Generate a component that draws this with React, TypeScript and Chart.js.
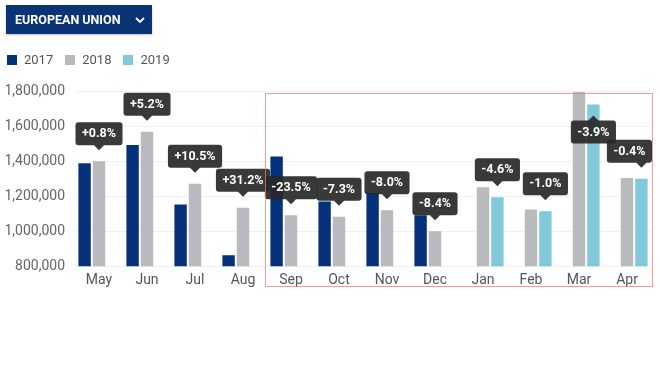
import React, { useEffect, useRef } from "react";
import { Chart, registerables } from "chart.js";

Chart.register(...registerables);

const months = ["May", "Jun", "Jul", "Aug", "Sep", "Oct", "Nov", "Dec", "Jan", "Feb", "Mar", "Apr"];
const v2017 = [1388000, 1492000, 1152000, 863000, 1426000, 1169000, 1218000, 1091000, null, null, null, null];
const v2018 = [1399000, 1568000, 1271000, 1134000, 1091000, 1082000, 1119000, 999000, 1250000, 1124000, 1795000, 1304000];
const v2019 = [null, null, null, null, null, null, null, null, 1194000, 1113000, 1723000, 1299000];
const changes = ["+0.8%", "+5.2%", "+10.5%", "+31.2%", "-23.5%", "-7.3%", "-8.0%", "-8.4%", "-4.6%", "-1.0%", "-3.9%", "-0.4%"];
const seriesNames = ["2017", "2018", "2019"];
const seriesColors = ["#03317a", "#b9babd", "#80c8da"];
const yTicks = { min: 800000, max: 1800000, step: 200000 };
const highlightStart = 4; // Sep

const FONT = "Roboto, 'Noto Sans', sans-serif";

const labelPlugin = {
  id: "changeLabels",
  afterDatasetsDraw(chart: any) {
    const ctx = chart.ctx;
    const area = chart.chartArea;
    const m1 = chart.getDatasetMeta(1);
    const m2 = chart.getDatasetMeta(2);
    ctx.save();
    ctx.font = "bold 12.5px " + FONT;
    ctx.textAlign = "center";
    ctx.textBaseline = "middle";
    changes.forEach((txt, i) => {
      const useMeta = v2019[i] != null ? m2 : m1;
      const el = useMeta.data[i];
      if (!el) return;
      const px = el.x;
      const py = el.y;
      const gap = 11;
      const caret = 5;
      const h = 23;
      const w = ctx.measureText(txt).width + 13;
      let above = true;
      let tipY = py - gap;
      let boxTop = tipY - caret - h;
      if (boxTop < area.top) {
        above = false;
        tipY = py + gap;
        boxTop = tipY + caret;
      }
      let boxLeft = px - w / 2;
      const maxRight = area.right + 1;
      if (boxLeft + w > maxRight) boxLeft = maxRight - w;
      const r = 3;
      ctx.fillStyle = "rgba(40,40,40,0.92)";
      ctx.beginPath();
      ctx.moveTo(boxLeft + r, boxTop);
      if (!above) {
        ctx.lineTo(px - caret, boxTop);
        ctx.lineTo(px, tipY);
        ctx.lineTo(px + caret, boxTop);
      }
      ctx.lineTo(boxLeft + w - r, boxTop);
      ctx.quadraticCurveTo(boxLeft + w, boxTop, boxLeft + w, boxTop + r);
      ctx.lineTo(boxLeft + w, boxTop + h - r);
      ctx.quadraticCurveTo(boxLeft + w, boxTop + h, boxLeft + w - r, boxTop + h);
      if (above) {
        ctx.lineTo(px + caret, boxTop + h);
        ctx.lineTo(px, tipY);
        ctx.lineTo(px - caret, boxTop + h);
      }
      ctx.lineTo(boxLeft + r, boxTop + h);
      ctx.quadraticCurveTo(boxLeft, boxTop + h, boxLeft, boxTop + h - r);
      ctx.lineTo(boxLeft, boxTop + r);
      ctx.quadraticCurveTo(boxLeft, boxTop, boxLeft + r, boxTop);
      ctx.closePath();
      ctx.fill();
      ctx.fillStyle = "#ffffff";
      ctx.fillText(txt, boxLeft + w / 2, boxTop + h / 2 + 0.5);
    });

    // highlight rectangle
    const xs = chart.scales.x;
    const cat = (xs.right - xs.left) / months.length;
    const left = xs.getPixelForValue(highlightStart) - cat / 2 - 2;
    ctx.strokeStyle = "rgba(245,120,120,0.75)";
    ctx.lineWidth = 1;
    ctx.strokeRect(Math.round(left) + 0.5, Math.round(area.top + 2) + 0.5, Math.round(area.right + 1 - left), Math.round(area.bottom + 20 - area.top - 2));
    ctx.restore();
  },
};

export default function App() {
  const ref = useRef<HTMLCanvasElement>(null);
  useEffect(() => {
    document.body.style.margin = "0";
    const chart = new Chart(ref.current as HTMLCanvasElement, {
      type: "bar",
      data: {
        labels: months,
        datasets: [v2017, v2018, v2019].map((d, i) => ({
          label: seriesNames[i],
          data: d as any,
          backgroundColor: seriesColors[i],
          categoryPercentage: 0.9,
          barPercentage: 0.86,
        })),
      },
      options: {
        responsive: false,
        animation: false,
        layout: { padding: { top: 91, left: 6, right: 9, bottom: 74 } },
        plugins: {
          legend: { display: false },
          tooltip: { enabled: false },
        },
        scales: {
          x: {
            grid: { display: false, drawTicks: false },
            border: { display: false },
            ticks: { color: "#555", font: { family: FONT, size: 14 }, padding: 6 },
          },
          y: {
            min: yTicks.min,
            max: yTicks.max,
            grid: { color: "#f0f0f0", drawTicks: false },
            border: { display: false },
            afterFit: (scale: any) => {
              scale.width = 69;
            },
            ticks: {
              stepSize: yTicks.step,
              color: "#666",
              padding: 10,
              font: { family: FONT, size: 14 },
              callback: (v: any) => Number(v).toLocaleString("en-US"),
            },
          },
        },
      },
      plugins: [labelPlugin],
    });
    return () => chart.destroy();
  }, []);

  return (
    <div style={{ position: "relative", width: 660, height: 369, fontFamily: FONT, background: "#fff" }}>
      <canvas ref={ref} width={660} height={369} style={{ position: "absolute", left: 0, top: 0 }} />
      <div
        style={{
          position: "absolute",
          left: 6,
          top: 5,
          width: 146,
          height: 29,
          background: "#0b3477",
          color: "#fff",
          fontWeight: 700,
          fontSize: 12.5,
          display: "flex",
          alignItems: "center",
          boxSizing: "border-box",
          paddingLeft: 9,
          boxShadow: "0 1px 2px rgba(0,0,0,0.25)",
        }}
      >
        <span>EUROPEAN UNION</span>
        <svg width="10" height="6" style={{ position: "absolute", left: 129, top: 12 }}>
          <polyline points="1,1 5,5 9,1" fill="none" stroke="#fff" strokeWidth="1.8" />
        </svg>
      </div>
      <div style={{ position: "absolute", left: 7, top: 52, display: "flex", alignItems: "center", fontSize: 13, color: "#555" }}>
        {seriesNames.map((n, i) => (
          <div key={n} style={{ display: "flex", alignItems: "center", marginRight: 12 }}>
            <span style={{ width: 10, height: 10, background: seriesColors[i], display: "inline-block", marginRight: 7 }} />
            <span>{n}</span>
          </div>
        ))}
      </div>
    </div>
  );
}
